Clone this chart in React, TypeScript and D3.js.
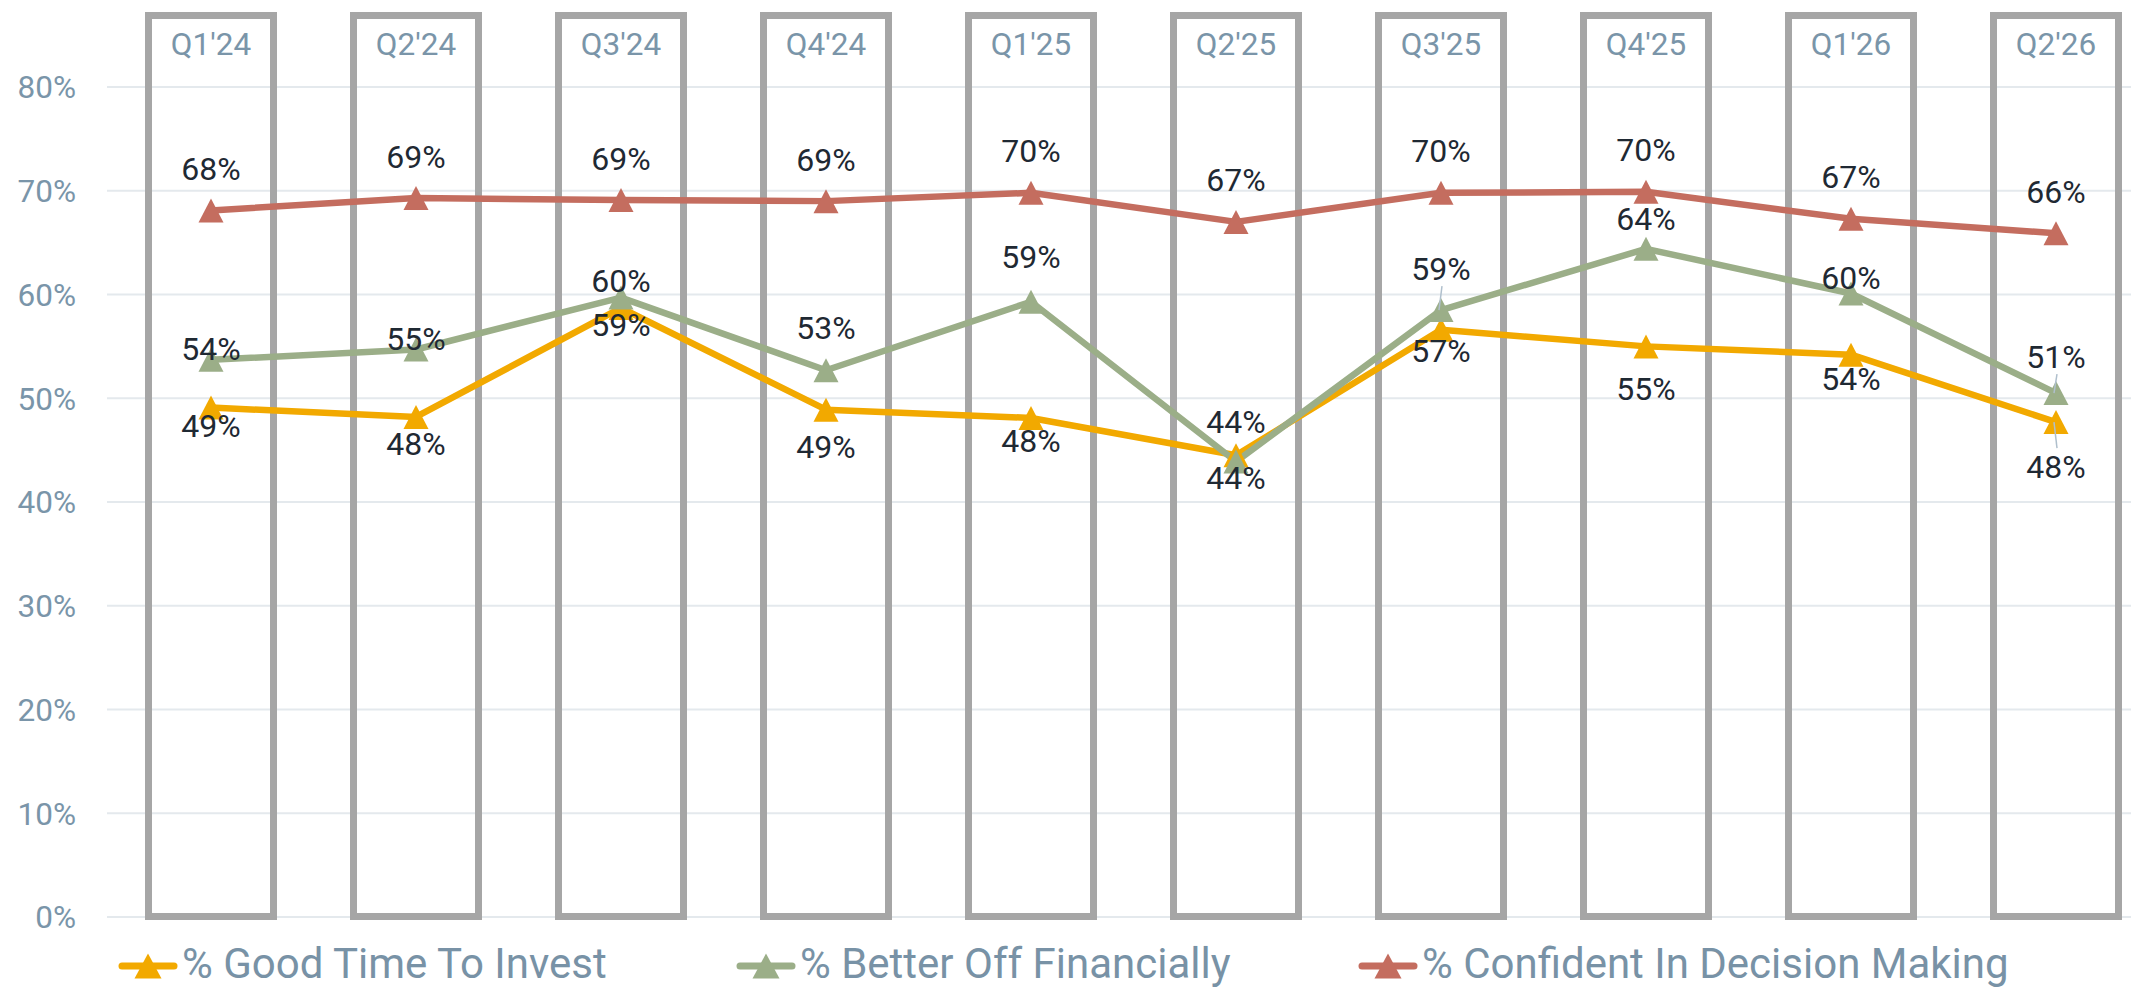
import React from "react";
import * as d3 from "d3";

const quarters = ["Q1'24", "Q2'24", "Q3'24", "Q4'24", "Q1'25", "Q2'25", "Q3'25", "Q4'25", "Q1'26", "Q2'26"];
const goodTime = [49.1, 48.2, 58.7, 48.9, 48.1, 44.5, 56.6, 55.0, 54.2, 47.7];
const betterOff = [53.7, 54.7, 59.7, 52.7, 59.3, 43.9, 58.5, 64.4, 60.1, 50.5];
const confident = [68.1, 69.3, 69.1, 69.0, 69.8, 67.0, 69.8, 69.9, 67.3, 65.9];
const goodTimeLabels = ["49%", "48%", "59%", "49%", "48%", "44%", "57%", "55%", "54%", "48%"];
const betterOffLabels = ["54%", "55%", "60%", "53%", "59%", "44%", "59%", "64%", "60%", "51%"];
const confidentLabels = ["68%", "69%", "69%", "69%", "70%", "67%", "70%", "70%", "67%", "66%"];
const yTicks = [0, 10, 20, 30, 40, 50, 60, 70, 80];
const seriesNames = ["% Good Time To Invest", "% Better Off Financially", "% Confident In Decision Making"];

// label placement offsets (px, label centre relative to point)
const goodTimeDy = [18, 27, 16, 37, 23, 22, 21, 42, 24, 44];
const betterOffDy = [-11, -11, -17, -43, -45, -40, -42, -30, -16, -37];
const confidentDy = [-42, -42, -42, -42, -42, -42, -42, -42, -42, -42];
// which labels have a leader line
const goodTimeLeader = [false, false, false, false, false, false, false, false, false, true];
const betterOffLeader = [false, false, false, false, false, false, true, false, false, true];
const confidentLeader = [false, false, false, false, false, false, false, false, false, false];

const W = 2131;
const H = 987;
const FONT = "Roboto, 'Noto Sans', sans-serif";

const series = [
  { name: seriesNames[0], values: goodTime, labels: goodTimeLabels, dy: goodTimeDy, leader: goodTimeLeader, color: "#F2A900" },
  { name: seriesNames[1], values: betterOff, labels: betterOffLabels, dy: betterOffDy, leader: betterOffLeader, color: "#9BAE88" },
  { name: seriesNames[2], values: confident, labels: confidentLabels, dy: confidentDy, leader: confidentLeader, color: "#C46D5F" },
];

const legendX = [148, 766, 1388];

const tri = (w: number, h: number) => `M0,${-h / 2}L${w / 2},${h / 2}L${-w / 2},${h / 2}Z`;

export default function App() {
  const x = d3.scalePoint<string>().domain(quarters).range([211, 2056]);
  const y = d3.scaleLinear().domain([0, 80]).range([917, 87]);
  const line = d3
    .line<number>()
    .x((_, i) => x(quarters[i]) as number)
    .y((d) => y(d));

  const boxW = 125;
  const boxTop = 15.5;
  const boxBottom = 916.5;

  return (
    <svg
      width={W}
      height={H}
      style={{ position: "absolute", left: 0, top: 0, background: "#fff" }}
      fontFamily={FONT}
    >
      <rect x={0} y={0} width={W} height={H} fill="#fff" />
      {/* gridlines */}
      {yTicks.map((t) => (
        <line key={t} x1={107} x2={W} y1={y(t)} y2={y(t)} stroke="#E4E9ED" strokeWidth={2} />
      ))}
      {/* y labels */}
      {yTicks.map((t) => (
        <text
          key={"l" + t}
          x={76}
          y={y(t)}
          dy="0.36em"
          textAnchor="end"
          fontSize={31.5}
          fill="#7A95A9"
        >
          {t}%
        </text>
      ))}
      {/* quarter boxes */}
      {quarters.map((q) => (
        <g key={q}>
          <rect
            x={(x(q) as number) - boxW / 2}
            y={boxTop}
            width={boxW}
            height={boxBottom - boxTop}
            fill="none"
            stroke="#A6A6A6"
            strokeWidth={7}
          />
          <text x={x(q)} y={55} textAnchor="middle" fontSize={31.5} fill="#7A95A9">
            {q}
          </text>
        </g>
      ))}
      {/* lines */}
      {series.map((s) => (
        <path
          key={s.name}
          d={line(s.values) as string}
          fill="none"
          stroke={s.color}
          strokeWidth={6.5}
          strokeLinejoin="round"
        />
      ))}
      {/* markers */}
      {series.map((s) => (
        <g key={"m" + s.name}>
          {s.values.map((v, i) => (
            <path
              key={i}
              d={tri(25, 24)}
              transform={`translate(${x(quarters[i])},${y(v)})`}
              fill={s.color}
            />
          ))}
        </g>
      ))}
      {/* leader lines */}
      {series.map((s) => (
        <g key={"ld" + s.name}>
          {s.values.map((v, i) =>
            s.leader[i] ? (
              <line
                key={i}
                x1={(x(quarters[i]) as number) + 1}
                x2={(x(quarters[i]) as number) - 2}
                y1={y(v) + s.dy[i] - Math.sign(s.dy[i]) * 18}
                y2={y(v)}
                stroke="#AFBFCC"
                strokeWidth={1.5}
              />
            ) : null
          )}
        </g>
      ))}
      {/* data labels */}
      {series.map((s) => (
        <g key={"t" + s.name}>
          {s.values.map((v, i) => (
            <text
              key={i}
              x={x(quarters[i])}
              y={y(v) + s.dy[i]}
              dy="0.36em"
              textAnchor="middle"
              fontSize={32}
              fill="#1F2933"
            >
              {s.labels[i]}
            </text>
          ))}
        </g>
      ))}
      {/* legend */}
      {series.map((s, i) => (
        <g key={"lg" + s.name} transform={`translate(${legendX[i]},966)`}>
          <line x1={-26} x2={26} y1={0} y2={0} stroke={s.color} strokeWidth={7} strokeLinecap="round" />
          <path d={tri(27, 25)} fill={s.color} />
          <text x={34} y={12} fontSize={42} fill="#7892A6">
            {s.name}
          </text>
        </g>
      ))}
    </svg>
  );
}
